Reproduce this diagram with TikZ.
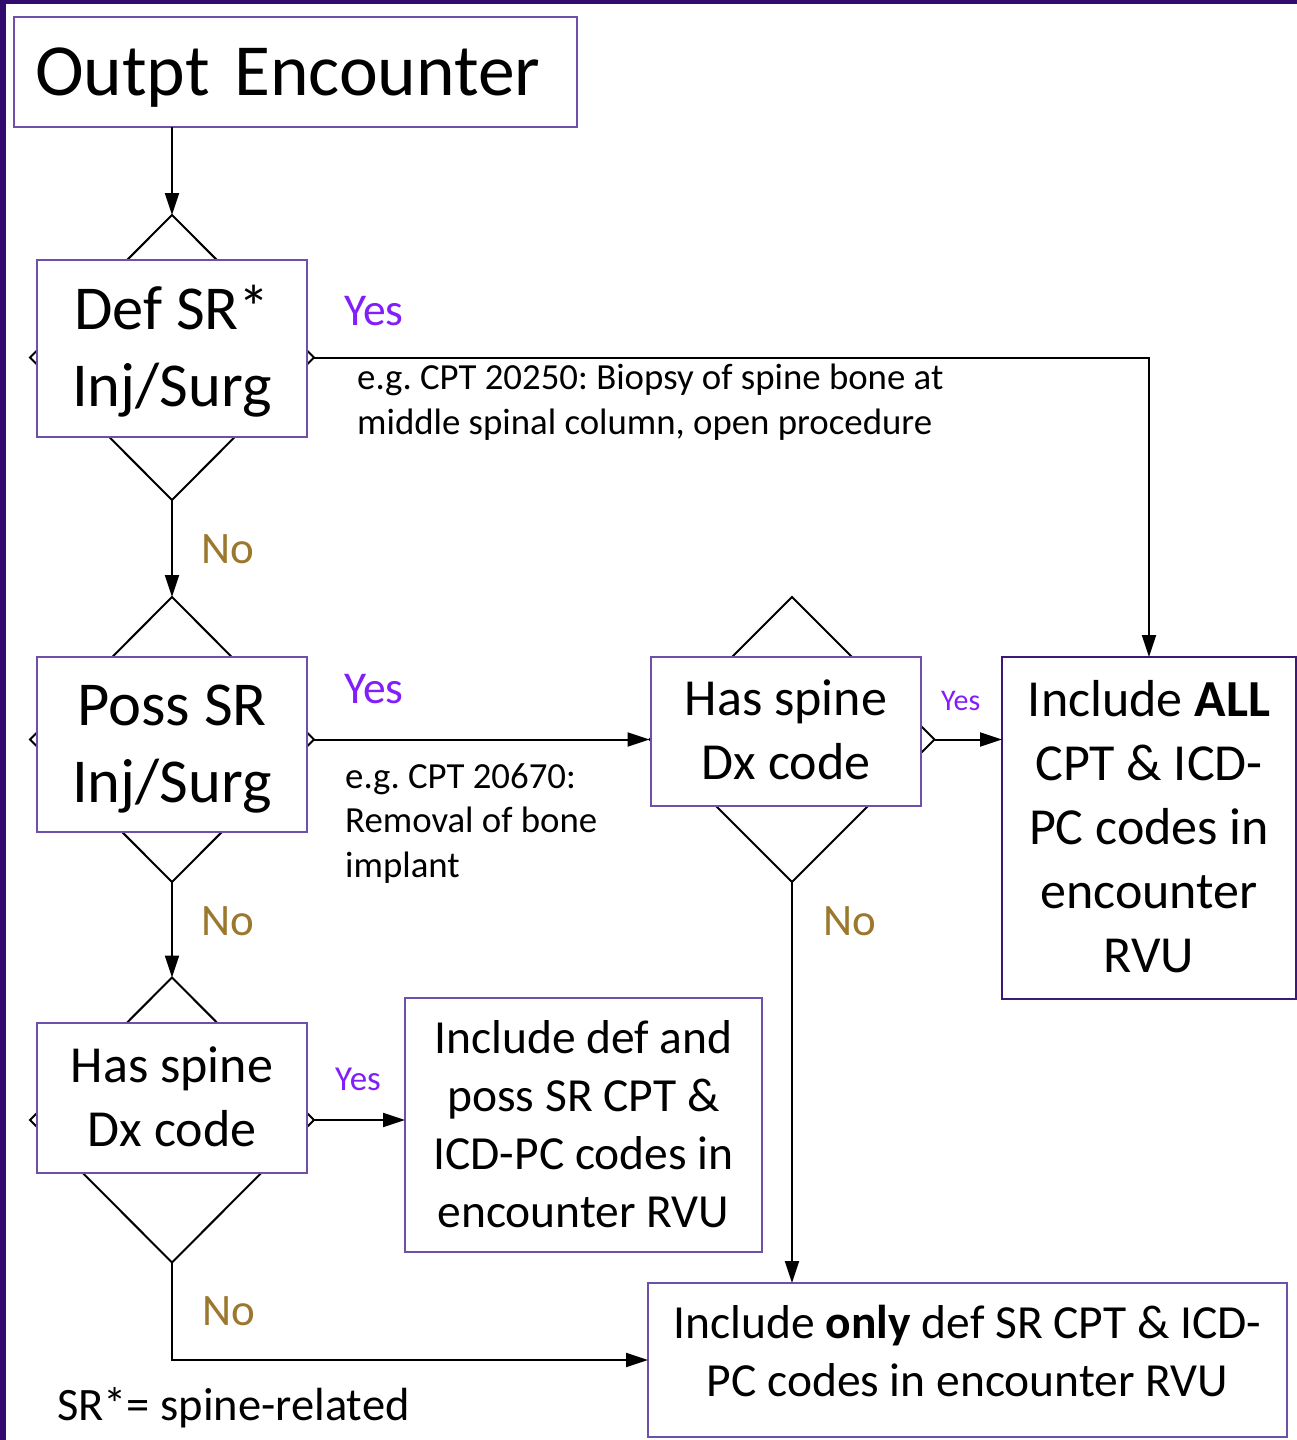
\documentclass[tikz,border=0pt]{standalone}
\usepackage{fontspec}
\setmainfont{Carlito}
\frenchspacing
\usetikzlibrary{shapes.geometric,arrows.meta}
\definecolor{frameC}{RGB}{51,10,110}
\definecolor{boxC}{RGB}{110,80,170}
\definecolor{boxD}{RGB}{60,25,120}
\definecolor{yesC}{RGB}{130,30,250}
\definecolor{noC}{RGB}{155,120,45}
\begin{document}
\begin{tikzpicture}[x=1pt,y=-1pt,
  dia/.style={diamond, draw=black, line width=2pt, inner sep=0pt, outer sep=0pt, minimum width=284pt, minimum height=285pt},
  tbox/.style={draw=boxC, line width=1.3pt, fill=white, inner sep=0pt, outer sep=0pt, align=center},
  conn/.style={draw=black, line width=2pt},
  arr/.style={conn, -{Triangle[length=22pt,width=14pt]}},
  yes/.style={text=yesC, anchor=base west, inner sep=0pt},
  no/.style={text=noC, anchor=base west, inner sep=0pt, font=\fontsize{45}{54}\selectfont},
  note/.style={anchor=base west, inner sep=0pt, align=left, font=\fontsize{36.8}{44.5}\selectfont},
]
\fill[white] (0,0) rectangle (1297,1440);
\useasboundingbox (0,0) rectangle (1297,1440);
\fill[frameC] (0,0) rectangle (1297,4);
\fill[frameC] (0,0) rectangle (6,1440);

% diamonds
\node[dia] (d1) at (172,357.5) {};
\node[dia] (d2) at (172,739.5) {};
\node[dia] (d3) at (172,1120) {};
\node[dia, minimum width=285pt] (d4) at (792,739.5) {};

% boxes
\node[tbox, minimum width=563pt, minimum height=110pt, text width=521pt, align=left,
      text height=46.8pt, text depth=0pt, font=\fontsize{73.5}{90}\selectfont] (enc) at (295.5,72) {Outpt Encounter};
\node[tbox, minimum width=270pt, minimum height=177pt, text height=116.5pt, text depth=0pt,
      font=\fontsize{62.5}{77}\selectfont] (r1) at (172,348.5) {Def SR*\\Inj/Surg};
\node[tbox, minimum width=270pt, minimum height=175pt, text height=116.5pt, text depth=0pt,
      font=\fontsize{62.5}{77}\selectfont] (r2) at (172,744.5) {Poss SR\\Inj/Surg};
\node[tbox, minimum width=270pt, minimum height=150pt, text height=96.9pt, text depth=0pt,
      font=\fontsize{52}{64}\selectfont] (r3) at (172,1098) {Has spine\\Dx code};
\node[tbox, minimum width=270pt, minimum height=149pt, text height=96.9pt, text depth=0pt,
      font=\fontsize{52}{64}\selectfont] (r4) at (786,731.5) {Has spine\\Dx code};
\node[tbox, draw=boxD, line width=2pt, minimum width=294pt, minimum height=342pt, text height=288.9pt, text depth=0pt,
      font=\fontsize{52}{64}\selectfont] (all) at (1149,828) {Include \textbf{ALL}\\CPT \& ICD-\\PC codes in\\encounter\\RVU};
\node[tbox, minimum width=357pt, minimum height=254pt, text height=204pt, text depth=0pt,
      font=\fontsize{47.5}{58}\selectfont] (inc) at (583.5,1125) {Include def and\\poss SR CPT \&\\ICD-PC codes in\\encounter RVU};
\node[tbox, minimum width=639pt, minimum height=154pt, text height=88pt, text depth=16pt,
      font=\fontsize{47.5}{58}\selectfont] (bot) at (967.5,1360) {Include \textbf{only} def SR CPT \& ICD-\\PC codes in encounter RVU};

% connectors
\draw[arr] (enc.south -| d1.north) -- (d1.north);
\draw[arr] (d1.south) -- (d2.north);
\draw[arr] (d2.south) -- (d3.north);
\draw[arr] (d1.east) -| (all.north);
\draw[arr] (d2.east) -- (d4.west);
\draw[arr] (d4.east) -- (d4.east -| all.west);
\draw[arr] (d4.south) -- (d4.south |- bot.north);
\draw[arr] (d3.east) -- (d3.east -| inc.west);
\draw[arr] (d3.south) |- (bot.west);

% labels
\node[yes, font=\fontsize{45.5}{55}\selectfont] (y1) at (344,325) {Yes};
\node[yes, font=\fontsize{45.5}{55}\selectfont] (y2) at (344,703) {Yes};
\node[yes, font=\fontsize{30}{36}\selectfont] (y3) at (941,710) {Yes};
\node[yes, font=\fontsize{35}{42}\selectfont] (y4) at (335,1090) {Yes};
\node[no] (n1) at (201,563) {No};
\node[no] (n2) at (201,935) {No};
\node[no] (n3) at (823,935) {No};
\node[no] (n4) at (202,1325) {No};
\node[note] (e1) at (357,434) {e.g. CPT 20250: Biopsy of spine bone at\\middle spinal column, open procedure};
\node[note] (e2) at (345,877) {e.g. CPT 20670:\\Removal of bone\\implant};
\node[anchor=base west, inner sep=0pt, font=\fontsize{46.5}{56}\selectfont] (fn) at (57,1420) {SR*= spine-related};
\end{tikzpicture}
\end{document}
